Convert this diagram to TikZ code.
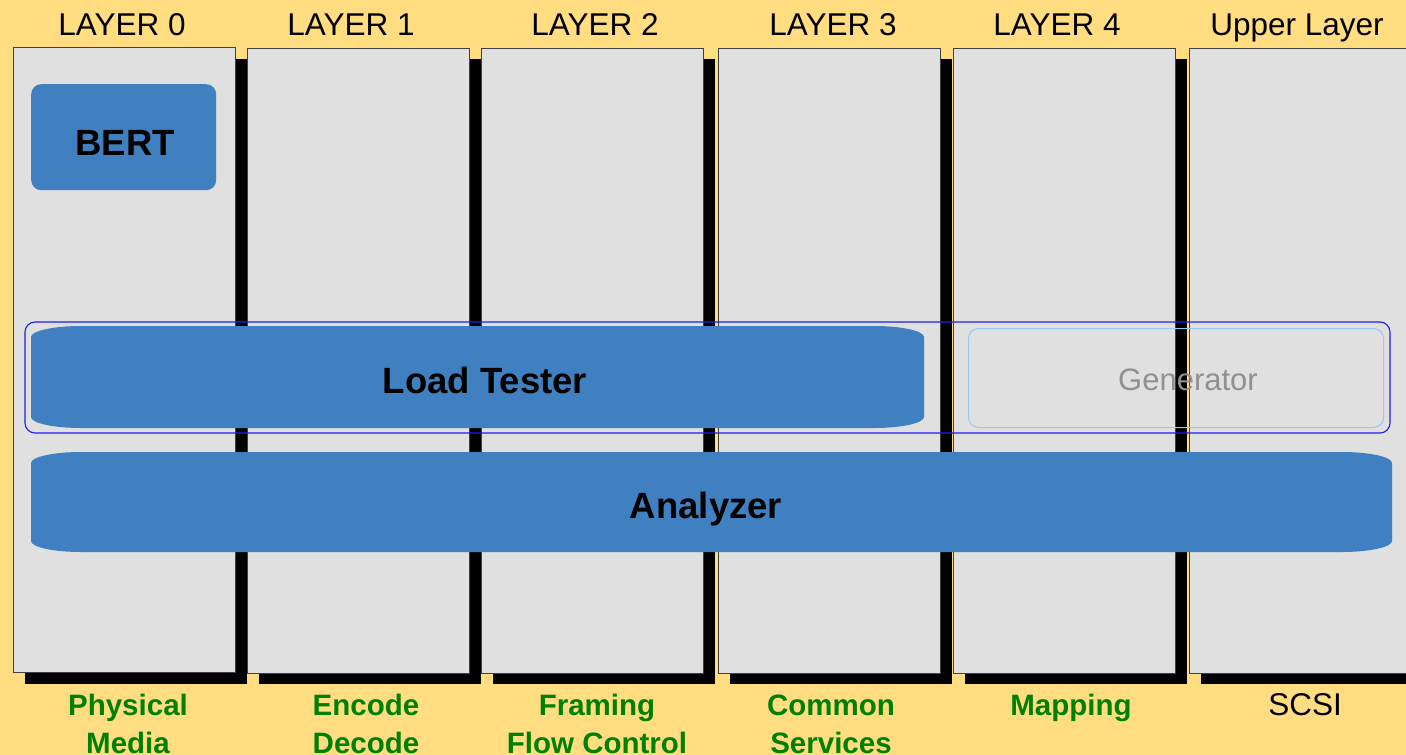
\documentclass[tikz,border=0pt]{standalone}
\usepackage{fontspec}
\setmainfont{Liberation Sans}
\definecolor{bgyellow}{RGB}{255,221,128}
\definecolor{colgrey}{RGB}{224,224,224}
\definecolor{colline}{RGB}{64,64,64}
\definecolor{boxblue}{RGB}{64,128,192}
\definecolor{labgreen}{RGB}{0,128,0}
\definecolor{genline}{RGB}{150,200,240}
\definecolor{gentext}{RGB}{144,144,144}
\definecolor{groupline}{RGB}{30,30,240}
\tikzset{
  colbox/.style={draw=colline, line width=0.8pt, fill=colgrey, minimum width=222pt,
    minimum height=625pt, anchor=north west, inner sep=0pt, outer sep=0pt},
  colshadow/.style={fill=black},
  layertitle/.style={font=\fontsize{31.5}{36}\selectfont, anchor=base, inner sep=0pt},
  layerfunc/.style={font=\bfseries\fontsize{29.5}{38}\selectfont, text=labgreen,
    align=center, anchor=base, inner sep=0pt},
  bluefill/.style={fill=boxblue, draw=none},
  bigtext/.style={font=\bfseries\fontsize{36.5}{40}\selectfont, text=black,
    anchor=base, inner sep=0pt},
}
% capsule with elliptical corners: left x, top y, right x, bottom y
\newcommand{\capsulepath}[4]{%
  (#1,#2+11) .. controls (#1,#2+5) and (#1+22,#2) .. (#1+50,#2)
  -- (#3-50,#2) .. controls (#3-22,#2) and (#3,#2+5) .. (#3,#2+11)
  -- (#3,#4-11) .. controls (#3,#4-5) and (#3-22,#4) .. (#3-50,#4)
  -- (#1+50,#4) .. controls (#1+22,#4) and (#1,#4-5) .. (#1,#4-11) -- cycle}
\begin{document}
\begin{tikzpicture}[x=1pt, y=-1pt]
  \useasboundingbox[fill=bgyellow] (0,0) rectangle (1406,755);

  % column shadows
  \foreach \cx in {13,247,481,718,953,1189} {
    \fill[colshadow] (\cx+12,59) rectangle (\cx+234,684);
  }
  % columns
  \node[colbox] (c0) at (13,47) {};
  \node[colbox] (c1) at (247,48) {};
  \node[colbox] (c2) at (481,48) {};
  \node[colbox] (c3) at (718,48) {};
  \node[colbox] (c4) at (953,48) {};
  \node[colbox] (c5) at (1189,48) {};

  % layer titles
  \node[layertitle] (t0) at (122,35) {LAYER 0};
  \node[layertitle] (t1) at (351,35) {LAYER 1};
  \node[layertitle] (t2) at (595,35) {LAYER 2};
  \node[layertitle] (t3) at (833,35) {LAYER 3};
  \node[layertitle] (t4) at (1057,35) {LAYER 4};
  \node[layertitle] (t5) at (1297,35) {Upper Layer};

  % layer functions (base anchor sits on the last line)
  \node[layerfunc] (f0) at (128,753) {Physical\\Media};
  \node[layerfunc] (f1) at (366,753) {Encode\\Decode};
  \node[layerfunc] (f2) at (597,753) {Framing\\Flow Control};
  \node[layerfunc] (f3) at (831,753) {Common\\Services};
  \node[layerfunc] (f4) at (1071,715) {Mapping};
  \node[layertitle] (f5) at (1305,715) {SCSI};

  % BERT
  \node[bluefill, rounded corners=10pt, minimum width=185pt, minimum height=106pt,
        anchor=north west, inner sep=0pt] (bertbox) at (31,84) {};
  \node[bigtext] (bert) at (125,155) {BERT};

  % grouping of load tester and generator
  \draw[groupline, line width=1.1pt, rounded corners=10pt] (25,322) rectangle (1390,433);

  % Load Tester
  \fill[boxblue] \capsulepath{31}{326}{924}{428};
  \node[bigtext] (load) at (485,393) {Load Tester};

  % Generator
  \node[draw=genline, line width=1pt, rounded corners=10pt, minimum width=415pt,
        minimum height=99pt, anchor=north west, inner sep=0pt] (genbox) at (968,328) {};
  \node[font=\fontsize{31}{36}\selectfont, text=gentext, anchor=base, inner sep=0pt]
        (gen) at (1188,390) {Generator};

  % Analyzer
  \fill[boxblue] \capsulepath{31}{452}{1392}{552};
  \node[bigtext] (ana) at (706,518) {Analyzer};
\end{tikzpicture}
\end{document}
